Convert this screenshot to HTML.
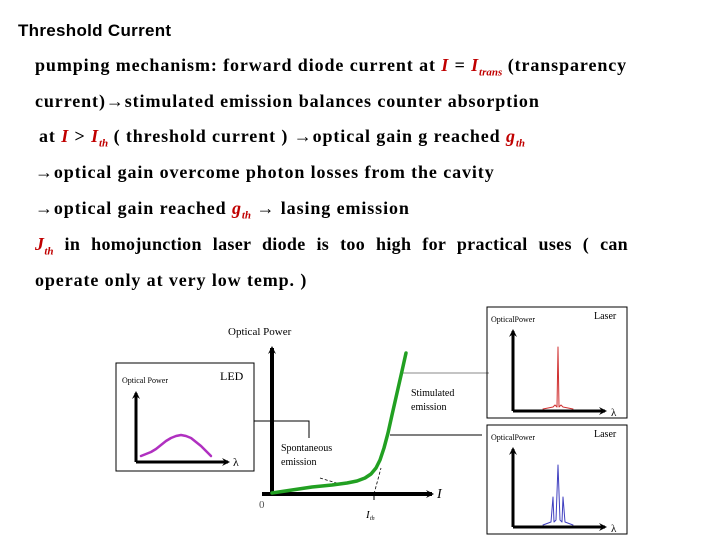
<!DOCTYPE html>
<html><head><meta charset="utf-8"><style>
body{margin:0;width:720px;height:540px;background:#fff;position:relative;overflow:hidden;font-family:"Liberation Serif",serif;}
.t{position:absolute;font-weight:bold;font-size:18px;white-space:nowrap;color:#000;letter-spacing:0.9px;}
.r{color:#c00000;font-style:italic;}
sub{font-size:11px;letter-spacing:0;}
</style></head><body>
<div class="t" style="left:18px;top:21px;font-size:17px;letter-spacing:0.3px;font-family:'Liberation Sans',sans-serif;">Threshold Current</div>
<div class="t" style="left:35px;top:55px;">pumping mechanism: forward diode current at <span class="r">I</span> = <span class="r">I<sub>trans</sub></span> (transparency</div>
<div class="t" style="left:35px;top:91px;">current)&#8594;stimulated emission balances counter absorption</div>
<div class="t" style="left:39px;top:126px;">at <span class="r">I</span> &gt; <span class="r">I<sub>th</sub></span> ( threshold current ) &#8594;optical gain g reached <span class="r">g<sub>th</sub></span></div>
<div class="t" style="left:35px;top:162px;">&#8594;optical gain overcome photon losses from the cavity</div>
<div class="t" style="left:35px;top:198px;">&#8594;optical gain reached <span class="r">g<sub>th</sub></span> &#8594; lasing emission</div>
<div class="t" style="left:35px;top:234px;width:593px;letter-spacing:0.3px;text-align:justify;text-align-last:justify;"><span class="r">J<sub>th</sub></span> in homojunction laser diode is too high for practical uses ( can</div>
<div class="t" style="left:35px;top:270px;">operate only at very low temp. )</div>
<svg id="fig" width="720" height="540" style="position:absolute;left:0;top:0">
<defs><marker id="ah" markerWidth="8" markerHeight="8" refX="6" refY="4" orient="auto" markerUnits="userSpaceOnUse"><path d="M0,0 L8,4 L0,8 L3,4z" fill="#000"/></marker></defs>
</svg>
<script>
const curI=[0,20,40,60,75,85,93,99,104,108,112,116,120,125,130,134];
const curP=[0,3,6,8,10,12,15,19,25,33,45,60,78,100,122,140];
const ledX=[0,5,10,15,20,25,30,35,40,45,50,55,60,65,70];
const ledY=[0,2,4,7,11,15,18,20,21,20,18,14,10,5,0];
const redX=[-15,-5,-3,-1,0,1,3,5,15];
const redY=[0,2,4,2,62,2,4,2,0];
const blueX=[-15,-7,-5,-4,-2,0,2,4,5,7,15];
const blueY=[0,3,28,3,5,60,5,3,28,3,0];
const NS="http://www.w3.org/2000/svg",svg=document.getElementById('fig');
function el(t,a,name){const e=document.createElementNS(NS,t);for(const k in a)e.setAttribute(k,a[k]);


svg.appendChild(e);return e;}
function tx(x,y,s,size,name,extra){const e=el('text',Object.assign({x:x,y:y,'font-size':size,'font-family':'Liberation Serif, serif'},extra||{}),name);e.textContent=s;return e;}
function poly(xs,ys,fx,fy,st,w,name){el('polyline',{points:xs.map((v,i)=>fx(v)+','+fy(ys[i])).join(' '),fill:'none',stroke:st,'stroke-width':w,'stroke-linejoin':'round','stroke-linecap':'round'},name);}
el('rect',{x:116,y:363,width:138,height:108,fill:'none',stroke:'#000','stroke-width':1},'led-box');
el('line',{x1:136,y1:462,x2:136,y2:393,stroke:'#000','stroke-width':3,'marker-end':'url(#ah)'},'led-y-axis');
el('line',{x1:136,y1:462,x2:228,y2:462,stroke:'#000','stroke-width':3,'marker-end':'url(#ah)'},'led-x-axis');
tx(122,383,'Optical Power',8,'led-y-label');tx(220,380,'LED',12,'led-label');tx(233,466,'λ',12,'led-lambda');
poly(ledX,ledY,v=>141+v,v=>456-v,'#b030c0',2.5,'led-spectrum');
el('line',{x1:272,y1:494,x2:272,y2:348,stroke:'#000','stroke-width':4,'marker-end':'url(#ah)'},'main-y-axis');
el('line',{x1:262,y1:494,x2:432,y2:494,stroke:'#000','stroke-width':4,'marker-end':'url(#ah)'},'main-x-axis');
tx(228,335,'Optical Power',11,'main-y-label');tx(437,498,'I',14,'current-label',{'font-style':'italic'});
tx(259,508,'0',11,'origin-label',{fill:'#555'});
el('line',{x1:374,y1:494,x2:374,y2:500,stroke:'#000'},'ith-tick');
tx(366,518,'I',11,'ith-label',{'font-style':'italic'});tx(370,520,'th',6,'ith-sub',{'font-style':'italic'});
el('line',{x1:374,y1:494,x2:381,y2:468,stroke:'#000','stroke-dasharray':'3,2','stroke-width':0.8},'ith-dashed');
el('line',{x1:320,y1:478,x2:343,y2:485,stroke:'#000','stroke-dasharray':'3,2','stroke-width':0.8},'spont-leader');
el('polyline',{points:'254,421 309,421 309,438',fill:'none',stroke:'#000'},'led-connector');
el('line',{x1:390,y1:435,x2:482,y2:435,stroke:'#000'},'stim-connector');
el('line',{x1:403,y1:373,x2:489,y2:373,stroke:'#888'},'laser-connector');
poly(curI,curP,v=>272+v,v=>493-v,'#22a022',3.5,'li-curve');
tx(281,451,'Spontaneous',10,'spont-label');tx(281,465,'emission',10,'spont-label-2');
tx(411,396,'Stimulated',10,'stim-label');tx(411,410,'emission',10,'stim-label-2');
[[307,418,redX,redY,'#d03030','red'],[425,534,blueX,blueY,'#4040c0','blue']].forEach(b=>{
const top=b[0],bot=b[1];
el('rect',{x:487,y:top,width:140,height:bot-top,fill:'none',stroke:'#000'},'laser-box-'+b[5]);
el('line',{x1:513,y1:bot-7,x2:513,y2:top+24,stroke:'#000','stroke-width':3,'marker-end':'url(#ah)'},'laser-y-axis-'+b[5]);
el('line',{x1:513,y1:bot-7,x2:605,y2:bot-7,stroke:'#000','stroke-width':3,'marker-end':'url(#ah)'},'laser-x-axis-'+b[5]);
tx(491,top+15,'OpticalPower',8,'laser-y-label-'+b[5]);tx(594,top+12,'Laser',10,'laser-label-'+b[5]);
tx(611,bot-2,'λ',11,'laser-lambda-'+b[5]);
poly(b[2],b[3],v=>558+v,v=>bot-9-v,b[4],1,'laser-spectrum-'+b[5]);
});
</script>
</body></html>
